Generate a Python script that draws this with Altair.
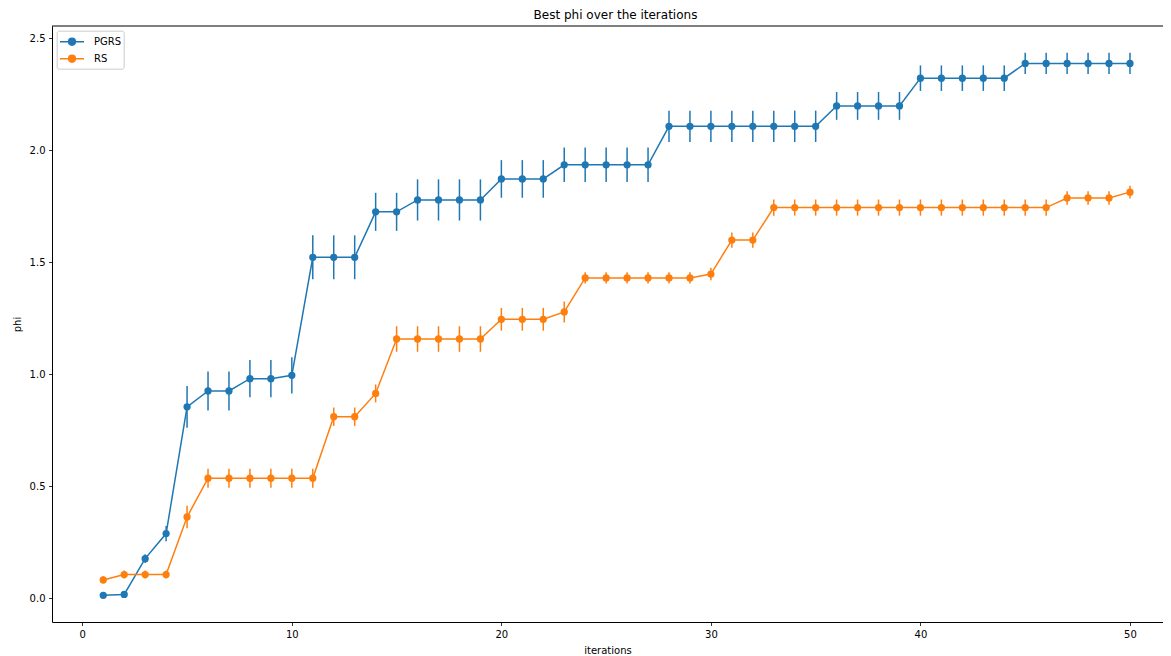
import altair as alt
import pandas as pd

iterations = [1, 2, 3, 4, 5, 6, 7, 8, 9, 10,
              11, 12, 13, 14, 15, 16, 17, 18, 19, 20,
              21, 22, 23, 24, 25, 26, 27, 28, 29, 30,
              31, 32, 33, 34, 35, 36, 37, 38, 39, 40,
              41, 42, 43, 44, 45, 46, 47, 48, 49, 50]

pgrs_mean = [0.012, 0.016, 0.176, 0.288, 0.854, 0.925, 0.925, 0.980, 0.980, 0.995,
             1.522, 1.522, 1.522, 1.725, 1.725, 1.778, 1.778, 1.778, 1.778, 1.872,
             1.872, 1.872, 1.935, 1.935, 1.935, 1.935, 1.935, 2.107, 2.107, 2.107,
             2.107, 2.107, 2.107, 2.107, 2.107, 2.198, 2.198, 2.198, 2.198, 2.322,
             2.322, 2.322, 2.322, 2.322, 2.388, 2.388, 2.388, 2.388, 2.388, 2.388]
pgrs_err = [0.005, 0.006, 0.020, 0.034, 0.093, 0.087, 0.087, 0.083, 0.083, 0.081,
            0.098, 0.098, 0.098, 0.085, 0.085, 0.092, 0.092, 0.092, 0.092, 0.084,
            0.084, 0.084, 0.077, 0.077, 0.077, 0.077, 0.077, 0.070, 0.070, 0.070,
            0.070, 0.070, 0.070, 0.070, 0.070, 0.062, 0.062, 0.062, 0.062, 0.057,
            0.057, 0.057, 0.057, 0.057, 0.047, 0.047, 0.047, 0.047, 0.047, 0.047]

rs_mean = [0.081, 0.105, 0.105, 0.105, 0.362, 0.535, 0.535, 0.535, 0.535, 0.535,
           0.535, 0.810, 0.810, 0.914, 1.157, 1.157, 1.157, 1.157, 1.157, 1.245,
           1.245, 1.245, 1.278, 1.430, 1.430, 1.430, 1.430, 1.430, 1.430, 1.447,
           1.599, 1.599, 1.744, 1.744, 1.744, 1.744, 1.744, 1.744, 1.744, 1.744,
           1.744, 1.744, 1.744, 1.744, 1.744, 1.744, 1.787, 1.787, 1.787, 1.813]
rs_err = [0.016, 0.018, 0.018, 0.018, 0.050, 0.042, 0.042, 0.042, 0.042, 0.042,
          0.042, 0.041, 0.041, 0.040, 0.057, 0.057, 0.057, 0.057, 0.057, 0.051,
          0.051, 0.051, 0.047, 0.025, 0.025, 0.025, 0.025, 0.025, 0.025, 0.028,
          0.034, 0.034, 0.036, 0.036, 0.036, 0.036, 0.036, 0.036, 0.036, 0.036,
          0.036, 0.036, 0.036, 0.036, 0.036, 0.036, 0.030, 0.030, 0.030, 0.028]

series_names = ["PGRS", "RS"]
series_colors = ["#1f77b4", "#ff7f0e"]
x_ticks = [0, 10, 20, 30, 40, 50]
y_ticks = [0.0, 0.5, 1.0, 1.5, 2.0, 2.5]

rows = []
for name, means, errs in (("PGRS", pgrs_mean, pgrs_err), ("RS", rs_mean, rs_err)):
    for it, m, e in zip(iterations, means, errs):
        rows.append({"series": name, "it": it, "mean": m, "lo": m - e, "hi": m + e})
df = pd.DataFrame(rows)

W, H = 1111, 596
FONT = "DejaVu Sans"

xs = alt.Scale(domain=[-1.446, 51.576], nice=False, zero=False)
ys = alt.Scale(domain=[-0.107, 2.555], nice=False, zero=False)
cs = alt.Scale(domain=series_names, range=series_colors)

x_axis = alt.Axis(values=x_ticks, title="iterations", grid=False, tickSize=3.5,
                  tickWidth=0.8, tickColor="#000", labelPadding=3.5, titlePadding=6,
                  domainColor="#000", domainWidth=1)
y_axis = alt.Axis(values=y_ticks, format=".1f", title="phi", grid=False, tickSize=3.5,
                  tickWidth=0.8, tickColor="#000", labelPadding=3.5, titlePadding=7,
                  domainColor="#000", domainWidth=1)

sym_path = ("M-1.5,0L1.5,0M0,-0.53L0,0.53"
            "M-0.42,0A0.42,0.42 0 1,0 0.42,0A0.42,0.42 0 1,0 -0.42,0Z")

def make_legend():
    return alt.Legend(
        title=None, orient="none", legendX=4.7, legendY=4.7,
        symbolType=sym_path, symbolSize=256, symbolStrokeWidth=1.5,
        symbolOffset=4.3,
        labelFontSize=10, labelFont=FONT, labelColor="#000", labelOffset=13,
        padding=2, rowPadding=0, strokeColor="#cccccc",
        fillColor="rgba(255,255,255,0.8)", cornerRadius=2, symbolOpacity=1,
    )

layers = []

# layer with no rows drawn: it only carries the legend (fill + stroke from the same scale)
legend_layer = alt.Chart(df).transform_filter(alt.datum.it < 0).mark_point(strokeWidth=1.5).encode(
    x=alt.X("it:Q", scale=xs, axis=x_axis),
    y=alt.Y("mean:Q", scale=ys, axis=y_axis),
    fill=alt.Fill("series:N", scale=cs, legend=make_legend()),
    stroke=alt.Stroke("series:N", scale=cs, legend=make_legend()),
)
layers.append(legend_layer)

for name in series_names:
    base = alt.Chart(df).transform_filter(alt.datum.series == name)
    err = base.mark_rule(strokeWidth=1.5).encode(
        x=alt.X("it:Q", scale=xs),
        y=alt.Y("lo:Q", scale=ys),
        y2="hi:Q",
        stroke=alt.Stroke("series:N", scale=cs),
    )
    line = base.mark_line(strokeWidth=1.5).encode(
        x=alt.X("it:Q", scale=xs),
        y=alt.Y("mean:Q", scale=ys),
        stroke=alt.Stroke("series:N", scale=cs),
    )
    pts = base.mark_point(size=53, opacity=1, strokeWidth=0).encode(
        x=alt.X("it:Q", scale=xs),
        y=alt.Y("mean:Q", scale=ys),
        fill=alt.Fill("series:N", scale=cs),
    )
    layers += [err, line, pts]

top_frame = alt.Chart(pd.DataFrame({"a": [0]})).mark_rule(color="#000", strokeWidth=1).encode(
    x=alt.value(0), x2=alt.value(W), y=alt.value(0)
)
layers.append(top_frame)

chart = alt.layer(*layers).properties(
    width=W, height=H,
    title=alt.TitleParams("Best phi over the iterations", fontSize=12, font=FONT,
                          fontWeight="normal", color="#000", offset=4, dx=8),
    autosize=alt.AutoSizeParams(type="none"),
    padding={"left": 44, "top": 18, "right": 0, "bottom": 34},
).configure_view(stroke=None).configure_axis(
    labelFont=FONT, titleFont=FONT, labelFontSize=10, titleFontSize=10,
    labelColor="#000", titleColor="#000", titleFontWeight="normal",
)

chart.save("out.html", embed_options={"renderer": "svg", "actions": False})
